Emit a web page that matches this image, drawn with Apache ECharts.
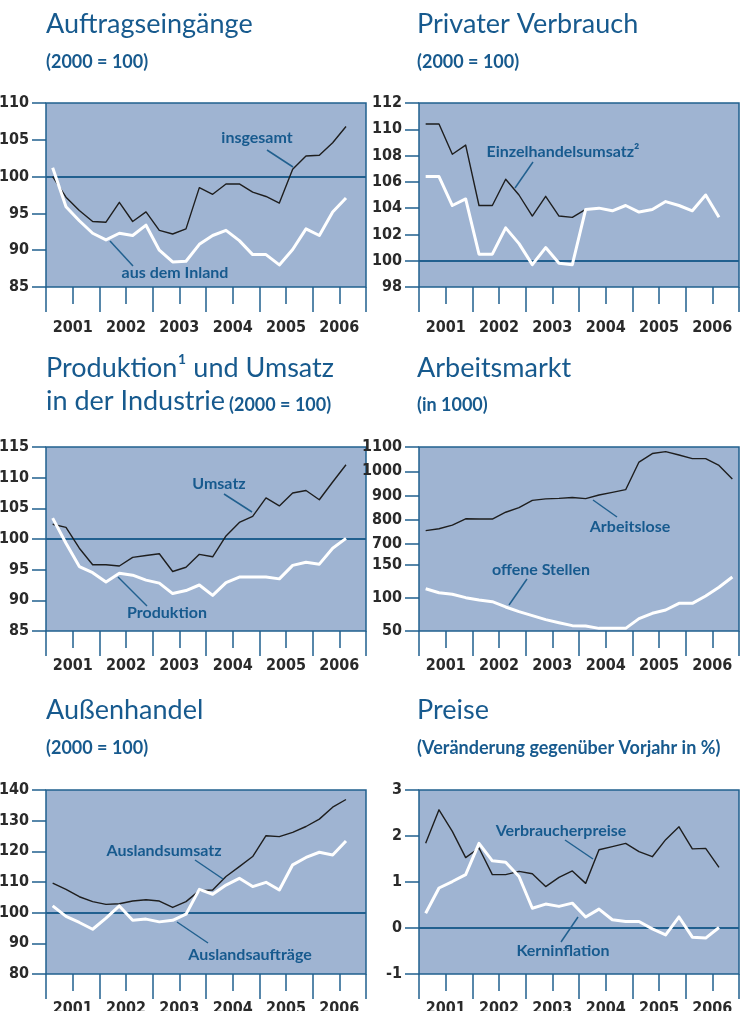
<!DOCTYPE html>
<html>
<head>
<meta charset="utf-8">
<title>Konjunkturindikatoren</title>
<script src="https://cdn.jsdelivr.net/npm/echarts@6/dist/echarts.min.js"></script>
<style>
  html, body { margin: 0; padding: 0; background: #fff; }
  #main { width: 747px; height: 1011px; }
</style>
</head>
<body>
<div id="main"></div>
<script>
// Jahre auf der x-Achse, Werte sind Quartale ab 2001 Q1
var years = ['2001', '2002', '2003', '2004', '2005', '2006'];

// Auftragseingänge (2000 = 100)
var auftragInsgesamt = [100.0, 97.2, 95.4, 93.9, 93.8, 96.5, 93.9, 95.2, 92.7, 92.2, 92.9, 98.5,
    97.6, 99.0, 99.0, 97.9, 97.3, 96.4, 101.0, 102.8, 102.9, 104.6, 106.8];
var auftragInland = [101.2, 95.9, 94.0, 92.3, 91.4, 92.3, 92.0, 93.4, 90.0, 88.4, 88.5, 90.8,
    92.0, 92.7, 91.3, 89.4, 89.4, 88.0, 90.1, 92.9, 92.0, 95.2, 97.1];

// Privater Verbrauch (2000 = 100)
var einzelhandelsumsatz = [110.4, 110.4, 108.1, 108.8, 104.2, 104.2, 106.2, 105.0, 103.4, 104.9, 103.4, 103.3,
    103.9, null, null, null, null, null, null, null, null, null, null];
var verbrauch = [106.4, 106.4, 104.2, 104.7, 100.5, 100.5, 102.5, 101.3, 99.7, 101.0, 99.8, 99.7,
    103.9, 104.0, 103.8, 104.2, 103.7, 103.9, 104.5, 104.2, 103.8, 105.0, 103.3];

// Produktion und Umsatz in der Industrie (2000 = 100)
var umsatz = [102.4, 101.9, 98.5, 95.8, 95.8, 95.6, 97.0, 97.3, 97.6, 94.7, 95.4, 97.5,
    97.1, 100.5, 102.7, 103.7, 106.7, 105.4, 107.5, 107.9, 106.4, 109.3, 112.1];
var produktion = [103.4, 99.3, 95.5, 94.5, 93.0, 94.4, 94.1, 93.3, 92.8, 91.1, 91.6, 92.5,
    90.8, 92.9, 93.8, 93.8, 93.8, 93.5, 95.7, 96.2, 95.9, 98.5, 100.1];

// Arbeitsmarkt (in 1000)
var arbeitslose = [755, 763, 778, 804, 803, 803, 831, 850, 880, 886, 888, 892,
    887, 902, 913, 924, 1038, 1073, 1081, 1067, 1052, 1052, 1024, 968];
var offeneStellen = [114, 108, 105.6, 100.5, 97, 94.4, 86.4, 79.3, 73.2, 67.2, 62.6, 58.1,
    57.6, 54, 54, 54, 68.7, 76.8, 81.8, 91.9, 91.9, 103, 116.2, 131.8];

// Außenhandel (2000 = 100)
var auslandsumsatz = [109.6, 107.6, 105.2, 103.6, 102.7, 102.9, 103.8, 104.2, 103.8, 101.7, 103.6, 107.2,
    107.4, 111.8, 115.0, 118.3, 125.1, 124.8, 126.2, 128.1, 130.5, 134.4, 136.9];
var auslandsauftraege = [102.2, 98.8, 96.8, 94.6, 98.2, 102.2, 97.5, 97.9, 97.0, 97.5, 99.5, 107.6,
    106.0, 109.0, 111.2, 108.5, 109.9, 107.4, 115.6, 118.0, 119.7, 118.8, 123.4];

// Preise (Veränderung gegenüber Vorjahr in %)
var verbraucherpreise = [1.84, 2.57, 2.10, 1.53, 1.74, 1.16, 1.16, 1.23, 1.18, 0.90, 1.10, 1.24,
    0.97, 1.70, 1.77, 1.84, 1.66, 1.55, 1.92, 2.20, 1.72, 1.73, 1.32];
var kerninflation = [0.32, 0.87, 1.01, 1.16, 1.84, 1.46, 1.43, 1.12, 0.43, 0.52, 0.47, 0.54,
    0.24, 0.41, 0.18, 0.14, 0.14, -0.02, -0.15, 0.24, -0.20, -0.22, 0.01];

var PLOT_BG = '#9fb4d2';
var AXIS = '#21608f';
var TITLE = '#175a8e';
var TICK_TEXT = '#2a2a2a';
var DARK_LINE = '#1e1e1e';
var TICK_FONT = '"Liberation Sans Narrow", "DejaVu Sans Condensed", sans-serif';
var TITLE_FONT = 'Lato, "Noto Sans", sans-serif';

var chart = echarts.init(document.getElementById('main'));

var option = {
    animation: false,
    grid: [],
    xAxis: [],
    yAxis: [],
    series: [],
    graphic: []
};

function addGrid(left, top, height, show) {
    option.grid.push({
        left: left, top: top, width: 320, height: height,
        containLabel: false, outerBoundsMode: 'none',
        show: show,
        backgroundColor: show ? PLOT_BG : 'transparent',
        borderColor: AXIS,
        borderWidth: show ? 1.5 : 0
    });
    return option.grid.length - 1;
}

// lange Striche an den Jahresgrenzen, kurze in der Jahresmitte mit Beschriftung
function addYearAxes(g, labelMargin) {
    option.xAxis.push({
        type: 'category', gridIndex: g, data: years, boundaryGap: true,
        position: 'bottom', offset: 0,
        axisLine: { show: false, onZero: false },
        axisTick: { show: true, length: 25, lineStyle: { color: AXIS, width: 1.5 } },
        axisLabel: { show: false },
        splitLine: { show: false }
    });
    option.xAxis.push({
        type: 'category', gridIndex: g, data: years, boundaryGap: true,
        position: 'bottom', offset: 0,
        axisLine: { show: false, onZero: false },
        axisTick: { show: true, alignWithLabel: true, length: 17, lineStyle: { color: AXIS, width: 1.5 } },
        axisLabel: {
            margin: labelMargin, color: TICK_TEXT, fontFamily: TICK_FONT,
            fontSize: 16, fontWeight: 'bold'
        },
        splitLine: { show: false }
    });
}

function addQuarterAxis(g) {
    option.xAxis.push({
        type: 'value', gridIndex: g, min: 0, max: 24, show: false,
        position: 'bottom', offset: 0, axisLine: { onZero: false }
    });
    return option.xAxis.length - 1;
}

function addYAxis(g, min, max, interval, show) {
    option.yAxis.push({
        type: 'value', gridIndex: g, min: min, max: max, interval: interval,
        show: show !== false, position: 'left', offset: 0,
        axisLine: { show: false, onZero: false },
        axisTick: { show: true, length: 14, lineStyle: { color: AXIS, width: 1.5 } },
        axisLabel: {
            margin: 17, color: TICK_TEXT, fontFamily: TICK_FONT,
            fontSize: 16, fontWeight: 'bold',
            formatter: function (v) { return String(v); }
        },
        splitLine: { show: false }
    });
    return option.yAxis.length - 1;
}

function addLine(xi, yi, values, color, width, z) {
    option.series.push({
        type: 'line', xAxisIndex: xi, yAxisIndex: yi, silent: true,
        data: values.map(function (v, i) { return [i + 0.5, v]; }),
        symbol: 'none', z: z,
        lineStyle: { color: color, width: width, join: 'round' }
    });
}

function addRefLine(xi, yi, value) {
    option.series.push({
        type: 'line', xAxisIndex: xi, yAxisIndex: yi, data: [], z: 1,
        markLine: {
            silent: true, z: 1, symbol: 'none', animation: false,
            label: { show: false },
            lineStyle: { color: AXIS, width: 2, type: 'solid' },
            data: [{ yAxis: value }]
        }
    });
}

function addTitle(x, y, text, size, weight) {
    option.graphic.push({
        type: 'text', x: x, y: y, z: 10,
        style: {
            text: text, fill: TITLE, fontFamily: TITLE_FONT,
            fontSize: size, fontWeight: weight || 'normal',
            align: 'left', verticalAlign: 'middle'
        }
    });
}

// Standard-Panel: ein Grid, zwei Reihen, optional Bezugslinie
function addPanel(left, top, yMin, yMax, yInterval, dark, light, ref, labelMargin) {
    var g = addGrid(left, top, 184, true);
    addYearAxes(g, labelMargin);
    var xi = addQuarterAxis(g);
    var yi = addYAxis(g, yMin, yMax, yInterval);
    if (ref !== null) addRefLine(xi, yi, ref);
    addLine(xi, yi, dark, DARK_LINE, 1.4, 2);
    addLine(xi, yi, light, '#ffffff', 3, 3);
}

addPanel(46, 103, 85, 110, 5, auftragInsgesamt, auftragInland, 100, 33);
addPanel(419, 103, 98, 112, 2, einzelhandelsumsatz, verbrauch, 100, 33);
addPanel(46, 447, 85, 115, 5, umsatz, produktion, 100, 27);
addPanel(46, 790, 80, 140, 10, auslandsumsatz, auslandsauftraege, 100, 27);
addPanel(419, 790, -1, 3, 1, verbraucherpreise, kerninflation, 0, 27);

// Arbeitsmarkt: unterbrochene y-Achse, zwei Teilbereiche übereinander
(function () {
    var bg = addGrid(419, 447, 184, true);
    addYearAxes(bg, 27);
    addQuarterAxis(bg);
    addYAxis(bg, 0, 1, 1, false);

    var upper = addGrid(419, 447, 97, false);
    var xu = addQuarterAxis(upper);
    var yu = addYAxis(upper, 700, 1100, 100);
    addLine(xu, yu, arbeitslose, DARK_LINE, 1.4, 2);

    var lower = addGrid(419, 565, 66, false);
    var xl = addQuarterAxis(lower);
    var yl = addYAxis(lower, 50, 150, 50);
    addLine(xl, yl, offeneStellen, '#ffffff', 3, 3);
})();

// Überschriften
addTitle(46, 24, 'Auftragseingänge', 27);
addTitle(46, 62, '(2000 = 100)', 18, 'bold');
addTitle(417, 24, 'Privater Verbrauch', 27);
addTitle(417, 62, '(2000 = 100)', 18, 'bold');
addTitle(46, 368, 'Produktion¹ und Umsatz', 27);
addTitle(46, 401, 'in der Industrie', 27);
addTitle(229, 405, '(2000 = 100)', 18, 'bold');
addTitle(417, 368, 'Arbeitsmarkt', 27);
addTitle(417, 405, '(in 1000)', 18, 'bold');
addTitle(46, 710, 'Außenhandel', 27);
addTitle(46, 748, '(2000 = 100)', 18, 'bold');
addTitle(417, 710, 'Preise', 27);
addTitle(417, 748, '(Veränderung gegenüber Vorjahr in %)', 18, 'bold');

// Beschriftungen der Linien mit Hinweisstrichen
var annotations = [
    ['insgesamt', 257, 138, [267, 150, 293, 167]],
    ['aus dem Inland', 175, 273, [133, 266, 110, 241]],
    ['Einzelhandelsumsatz²', 563, 152, [533, 162, 515, 188]],
    ['Umsatz', 219, 484, [224, 494, 252, 512]],
    ['Produktion', 167, 613, [147, 606, 118, 577]],
    ['Arbeitslose', 630, 527, [617, 517, 593, 500]],
    ['offene Stellen', 541, 570, [527, 579, 509, 605]],
    ['Auslandsumsatz', 164, 851, [195, 860, 223, 879]],
    ['Auslandsaufträge', 250, 955, [208, 943, 177, 922]],
    ['Verbraucherpreise', 561, 831, [565, 840, 593, 859]],
    ['Kerninflation', 563, 951, [561, 942, 578, 917]]
];
annotations.forEach(function (a) {
    option.graphic.push({
        type: 'line', z: 10,
        shape: { x1: a[3][0], y1: a[3][1], x2: a[3][2], y2: a[3][3] },
        style: { stroke: AXIS, lineWidth: 1.5 }
    });
    option.graphic.push({
        type: 'text', x: a[1], y: a[2], z: 10,
        style: {
            text: a[0], fill: TITLE, fontFamily: TITLE_FONT,
            fontSize: 16, fontWeight: 'bold',
            align: 'center', verticalAlign: 'middle'
        }
    });
});

chart.setOption(option);
</script>
</body>
</html>
